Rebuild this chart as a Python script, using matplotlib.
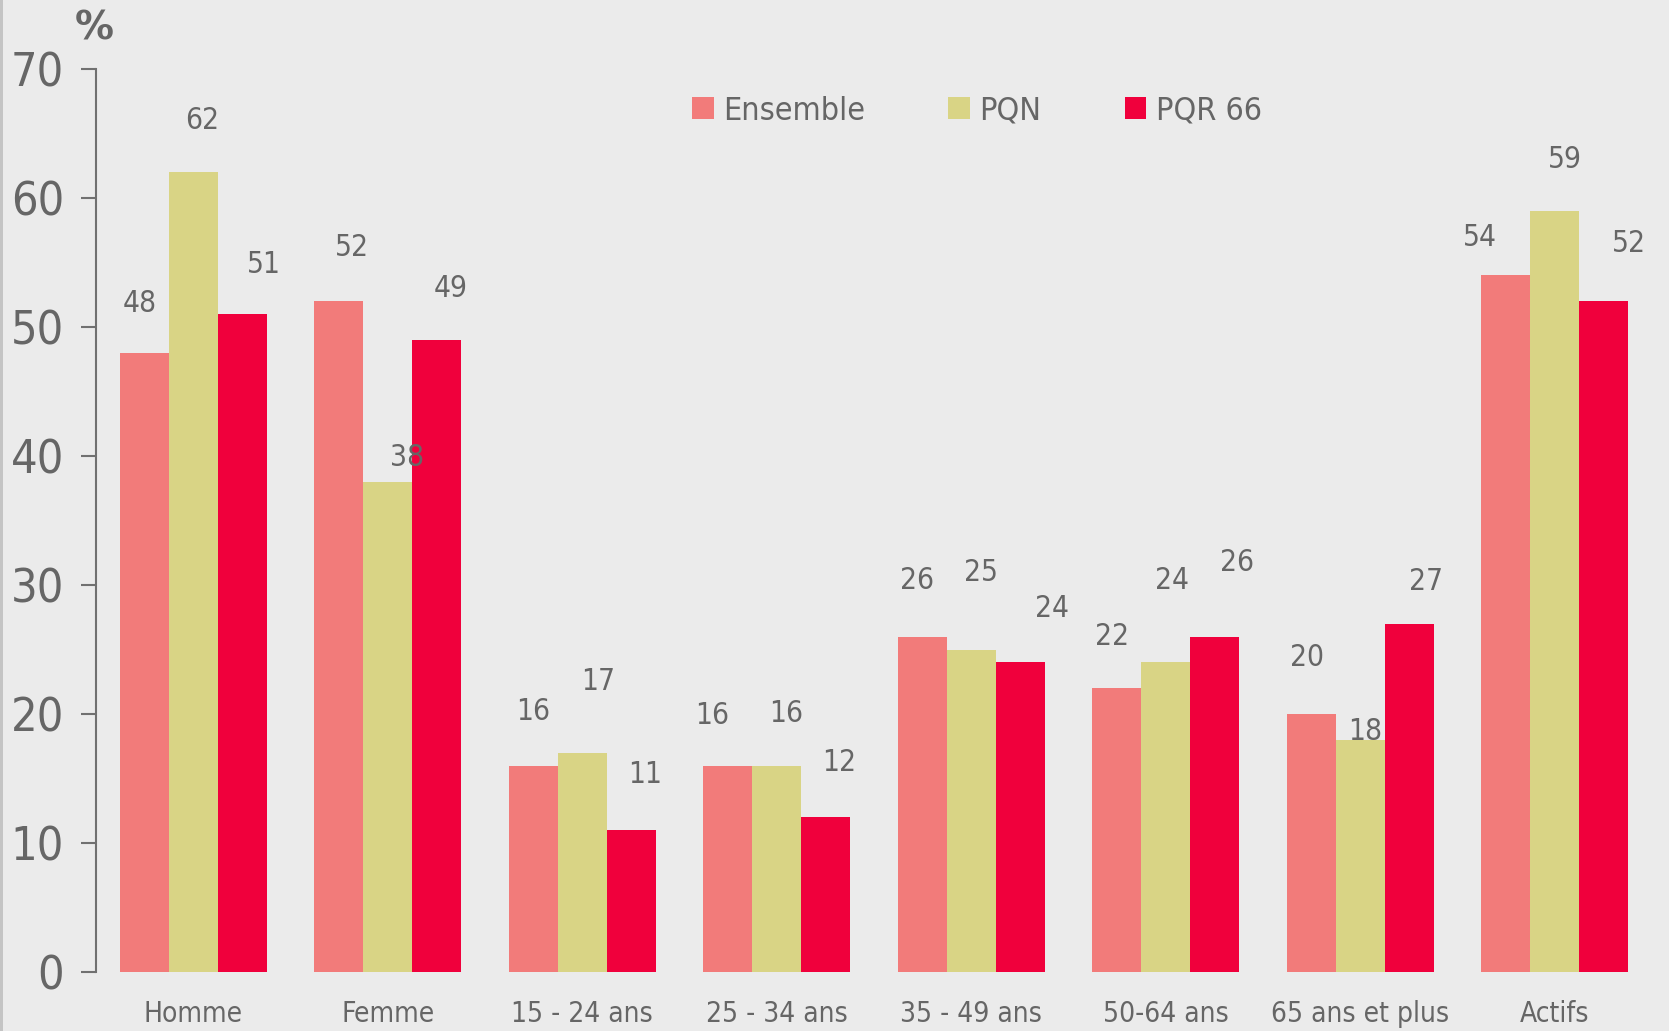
import matplotlib
matplotlib.use("Agg")
import matplotlib.pyplot as plt
from matplotlib.patches import Patch, Rectangle
from matplotlib import font_manager
import numpy as np

categories = ["Homme", "Femme", "15 - 24 ans", "25 - 34 ans", "35 - 49 ans",
              "50-64 ans", "65 ans et plus", "Actifs"]
series_names = ["Ensemble", "PQN", "PQR 66"]
ensemble = [48, 52, 16, 16, 26, 22, 20, 54]
pqn = [62, 38, 17, 16, 25, 24, 18, 59]
pqr66 = [51, 49, 11, 12, 24, 26, 27, 52]
yticks = [0, 10, 20, 30, 40, 50, 60, 70]

colors = ["#F27B7A", "#D9D485", "#F0003C"]
# label offsets (pixels, dx, dy) relative to the top centre of each bar
label_offsets = [
    [(-4, 46), (12, 50), (0, 51), (-15, 47), (-5, 53), (-4, 49), (-4, 53), (-24, 36)],
    [(8, 49), (18, 23), (15, 67), (9, 49), (9, 72), (6, 77), (5, 8), (10, 48)],
    [(20, 47), (13, 48), (13, 52), (13, 51), (30, 51), (21, 70), (16, 40), (24, 54)],
]

TXT = "#666666"
plt.rcParams['font.family'] = ['DejaVu Sans']

cond = any(f.name == "DejaVu Sans" and f.stretch == "condensed"
           for f in font_manager.fontManager.ttflist)
stretch = "condensed" if cond else "normal"
k = 1.1 if cond else 1.0

fig = plt.figure(figsize=(16.69, 10.31), dpi=100, facecolor="#EBEBEB")
ax = fig.add_axes([96 / 1669, 1 - 972 / 1031, (1652 - 96) / 1669, (972 - 69) / 1031])
ax.set_facecolor("#EBEBEB")

x = np.arange(len(categories))
w = 0.252
data = [ensemble, pqn, pqr66]
sc = 1669 / 1568
for i, (vals, col) in enumerate(zip(data, colors)):
    pos = x + (i - 1) * w
    ax.bar(pos, vals, width=w, color=col, edgecolor="none")
    for j, (p, v) in enumerate(zip(pos, vals)):
        dx, dy = label_offsets[i][j]
        ax.annotate(str(v), (p, v), xytext=(dx * sc, dy * sc), textcoords="offset pixels",
                    ha="center", va="center", fontsize=19.5 * k, color=TXT,
                    fontstretch=stretch)

ax.set_xlim(-0.5, len(categories) - 0.5)
ax.set_ylim(0, 70)
ax.set_yticks(yticks)
ax.set_yticklabels([str(t) for t in yticks], fontsize=30.5 * k, color=TXT,
                   fontstretch=stretch)
ax.set_xticks(x)
ax.set_xticklabels(categories, fontsize=18.3 * k, color=TXT, fontstretch=stretch)
ax.tick_params(axis="x", length=0, pad=20)
ax.tick_params(axis="y", length=11, width=1.5, color="#707070", pad=12)
for s in ["top", "right", "bottom"]:
    ax.spines[s].set_visible(False)
ax.spines["left"].set_color("#707070")
ax.spines["left"].set_linewidth(1.5)

fig.text(94 / 1669, 1 - 29 / 1031, "%", ha="center", va="center", fontsize=28,
         fontweight="bold", color=TXT)

handles = [Patch(facecolor=c, edgecolor="none") for c in colors]
fig.legend(handles, series_names, loc="center left",
           bbox_to_anchor=(692 / 1669, 1 - 111 / 1031), ncol=3, frameon=False,
           prop={"size": 21 * k, "stretch": stretch}, labelcolor=TXT,
           handlelength=0.74 / k, handleheight=0.74 / k,
           handletextpad=0.33 / k, columnspacing=2.85 / k, borderpad=0, borderaxespad=0)

fig.patches.append(Rectangle((0, 0), 3 / 1669, 1, transform=fig.transFigure,
                             facecolor="#C4C4C4", edgecolor="none"))

fig.savefig("out.png", dpi=100, facecolor=fig.get_facecolor())
